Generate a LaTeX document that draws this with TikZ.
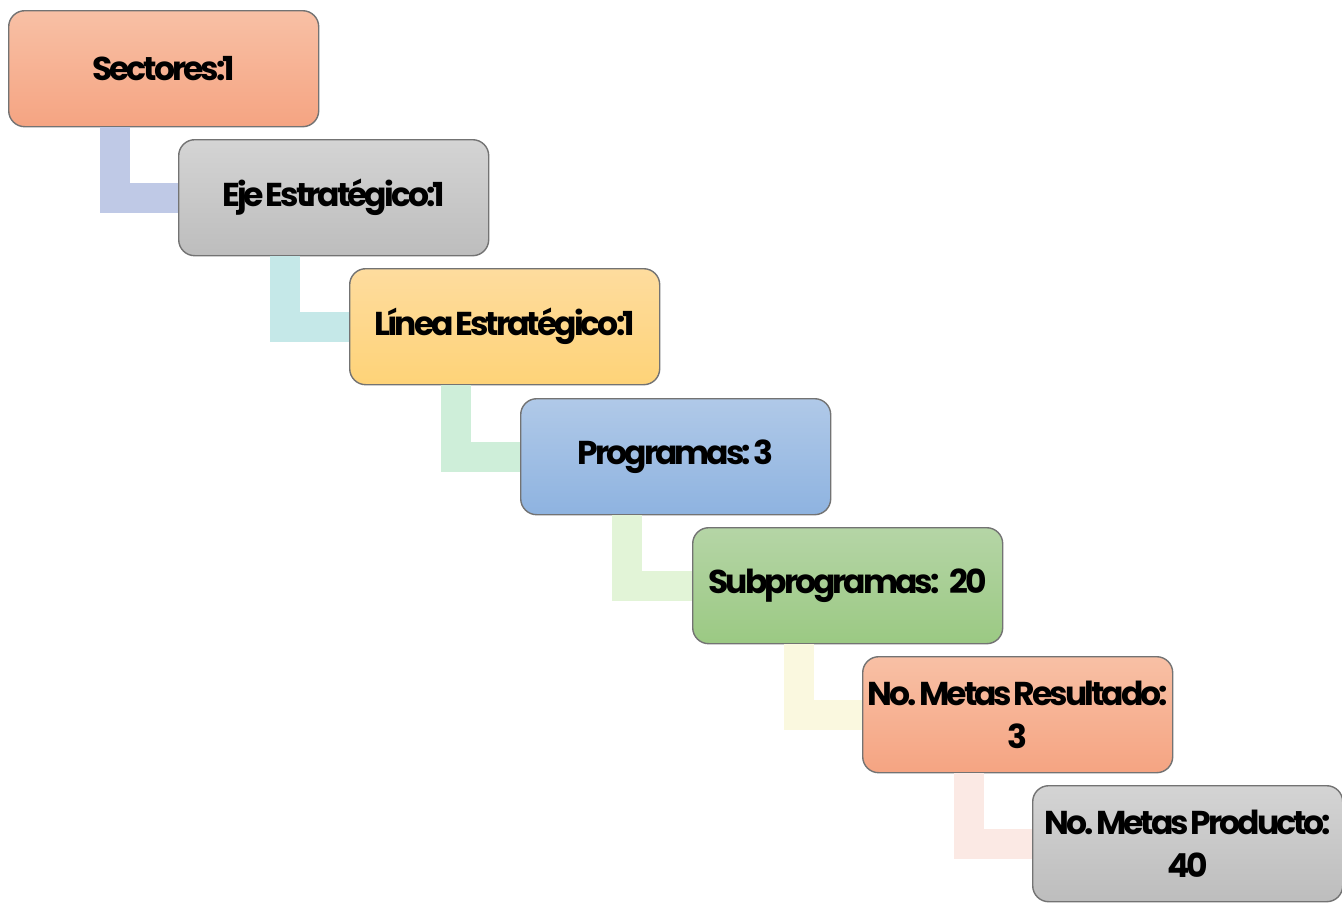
\documentclass[tikz,border=0pt]{standalone}
\usepackage{fontspec}
\setmainfont{Poppins}[LetterSpace=-9, WordSpace=0.35]
\usepackage{xcolor}
\usetikzlibrary{positioning,calc}
\definecolor{salmontop}{HTML}{F8C0A5}
\definecolor{salmonbot}{HTML}{F5A482}
\definecolor{greytop}{HTML}{D4D4D4}
\definecolor{greybot}{HTML}{BDBDBD}
\definecolor{sandtop}{HTML}{FEDC9E}
\definecolor{sandbot}{HTML}{FED378}
\definecolor{skytop}{HTML}{B0C9E8}
\definecolor{skybot}{HTML}{8EB3E0}
\definecolor{leaftop}{HTML}{B5D5A6}
\definecolor{leafbot}{HTML}{9BC983}
\definecolor{linkA}{HTML}{BFC9E6}
\definecolor{linkB}{HTML}{C5E8E8}
\definecolor{linkC}{HTML}{CEEED9}
\definecolor{linkD}{HTML}{E2F4D7}
\definecolor{linkE}{HTML}{FAF8DF}
\definecolor{linkF}{HTML}{FBE9E4}

\begin{document}
\begin{tikzpicture}[
    box/.style={rectangle, rounded corners=0.16cm, draw=black!55, line width=0.4pt, minimum width=3.1cm, inner xsep=0pt, inner ysep=1pt, minimum height=1.16cm, align=center, anchor=north west, font=\bfseries\fontsize{9.4}{12.2}\selectfont},
    salmon/.style={box, top color=salmontop, bottom color=salmonbot},
    grey/.style={box, top color=greytop, bottom color=greybot},
    sand/.style={box, top color=sandtop, bottom color=sandbot},
    sky/.style={box, top color=skytop, bottom color=skybot},
    leaf/.style={box, top color=leaftop, bottom color=leafbot},
    link/.style={line width=0.3cm, line join=miter, line cap=butt}
]
\useasboundingbox (0,0) rectangle (13.42,-9.06);

\node[salmon] (sectores) at (0.08,-0.10) {Sectores:1};
\node[grey] (eje) at (1.78,-1.39) {Eje Estratégico:1};
\node[sand] (linea) at (3.49,-2.68) {Línea Estratégico:1};
\node[sky] (programas) at (5.20,-3.98) {Programas: 3};
\node[leaf] (subprog) at (6.92,-5.27) {Subprogramas:\hspace{0.3em}20};
\node[salmon] (resultado) at (8.62,-6.56) {No. Metas Resultado:\\3};
\node[grey] (producto) at (10.32,-7.85) {No. Metas Producto:\\40};

% connectors behind the boxes
\draw[link, linkA] ([xshift=1.07cm]sectores.south west) |- (eje.west);
\draw[link, linkB] ([xshift=1.07cm]eje.south west) |- (linea.west);
\draw[link, linkC] ([xshift=1.07cm]linea.south west) |- (programas.west);
\draw[link, linkD] ([xshift=1.07cm]programas.south west) |- (subprog.west);
\draw[link, linkE] ([xshift=1.07cm]subprog.south west) |- (resultado.west);
\draw[link, linkF] ([xshift=1.07cm]resultado.south west) |- (producto.west);

\end{tikzpicture}
\end{document}
